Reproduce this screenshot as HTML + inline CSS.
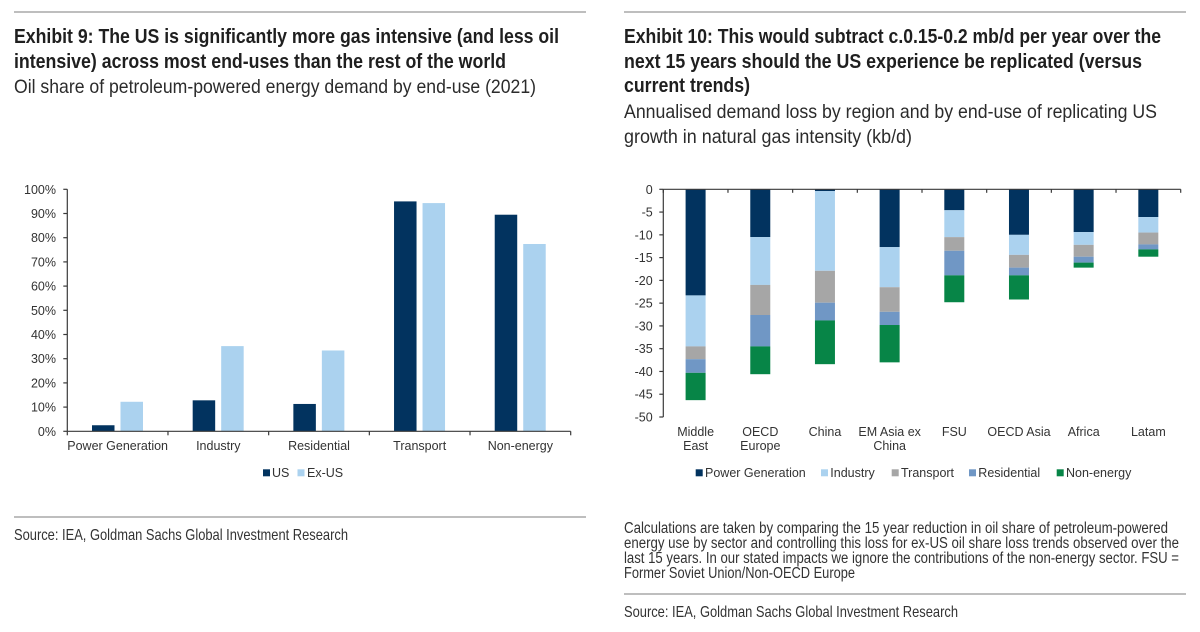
<!DOCTYPE html>
<html lang="en">
<head>
<meta charset="utf-8">
<title>Exhibits 9 and 10</title>
<style>
html,body{margin:0;padding:0;background:#fff;}
body{width:1200px;height:632px;overflow:hidden;}
svg{display:block;font-family:"Liberation Sans",Arial,sans-serif;}
.title{font-size:20px;font-weight:700;fill:#1f1f1f;}
.sub{font-size:19.5px;fill:#2b2b2b;}
.src{font-size:16px;fill:#333;}
.note{font-size:15.5px;fill:#333;}
.tick{font-size:12.5px;fill:#333;}
.rule{stroke:#a9a9a9;stroke-width:1.5;}
.axis{stroke:#3a3a3a;stroke-width:1.2;fill:none;}
</style>
</head>
<body>
<svg id="page" width="1200" height="632" viewBox="0 0 1200 632" xmlns="http://www.w3.org/2000/svg">
  <rect width="1200" height="632" fill="#ffffff"/>

  <line class="rule" x1="14" y1="12" x2="586" y2="12"/>
  <line class="rule" x1="624" y1="12" x2="1186" y2="12"/>

  <text class="title" x="14" y="43" textLength="545" lengthAdjust="spacingAndGlyphs">Exhibit 9: The US is significantly more gas intensive (and less oil</text>
  <text class="title" x="14" y="68" textLength="492" lengthAdjust="spacingAndGlyphs">intensive) across most end-uses than the rest of the world</text>
  <text class="sub" x="14" y="93" textLength="522" lengthAdjust="spacingAndGlyphs">Oil share of petroleum-powered energy demand by end-use (2021)</text>

  <text class="title" x="624" y="43" textLength="537" lengthAdjust="spacingAndGlyphs">Exhibit 10: This would subtract c.0.15-0.2 mb/d per year over the</text>
  <text class="title" x="624" y="68" textLength="518" lengthAdjust="spacingAndGlyphs">next 15 years should the US experience be replicated (versus</text>
  <text class="title" x="624" y="92" textLength="126" lengthAdjust="spacingAndGlyphs">current trends)</text>
  <text class="sub" x="624" y="118" textLength="533" lengthAdjust="spacingAndGlyphs">Annualised demand loss by region and by end-use of replicating US</text>
  <text class="sub" x="624" y="143" textLength="288" lengthAdjust="spacingAndGlyphs">growth in natural gas intensity (kb/d)</text>

  <g id="chart-left"></g>
  <g id="chart-right"></g>

  <line class="rule" x1="14" y1="517" x2="586" y2="517"/>
  <text class="src" x="14" y="540" textLength="334" lengthAdjust="spacingAndGlyphs">Source: IEA, Goldman Sachs Global Investment Research</text>

  <text class="note" x="624" y="533" textLength="544" lengthAdjust="spacingAndGlyphs">Calculations are taken by comparing the 15 year reduction in oil share of petroleum-powered</text>
  <text class="note" x="624" y="548" textLength="555" lengthAdjust="spacingAndGlyphs">energy use by sector and controlling this loss for ex-US oil share loss trends observed over the</text>
  <text class="note" x="624" y="563" textLength="555" lengthAdjust="spacingAndGlyphs">last 15 years. In our stated impacts we ignore the contributions of the non-energy sector. FSU =</text>
  <text class="note" x="624" y="578" textLength="231" lengthAdjust="spacingAndGlyphs">Former Soviet Union/Non-OECD Europe</text>

  <line class="rule" x1="624" y1="594" x2="1186" y2="594"/>
  <text class="src" x="624" y="617" textLength="334" lengthAdjust="spacingAndGlyphs">Source: IEA, Goldman Sachs Global Investment Research</text>
</svg>

<script>
// Exhibit 9 data
const leftCategories = ["Power Generation", "Industry", "Residential", "Transport", "Non-energy"];
const leftUS = [2.5, 12.8, 11.3, 95, 89.5];
const leftExUS = [12.2, 35.2, 33.4, 94.3, 77.4];
const leftTicks = [0, 10, 20, 30, 40, 50, 60, 70, 80, 90, 100];

// Exhibit 10 data
const rightCategories = [["Middle", "East"], ["OECD", "Europe"], ["China"], ["EM Asia ex", "China"], ["FSU"], ["OECD Asia"], ["Africa"], ["Latam"]];
const powerGeneration = [23.3, 10.5, 0.4, 12.7, 4.6, 10, 9.4, 6.1];
const industry = [11.2, 10.5, 17.5, 8.8, 5.9, 4.4, 2.8, 3.4];
const transport = [2.8, 6.6, 7, 5.4, 3, 2.8, 2.6, 2.6];
const residential = [3, 6.9, 3.9, 2.9, 5.4, 1.7, 1.3, 1.1];
const nonEnergy = [6, 6.1, 9.6, 8.2, 5.9, 5.3, 1.1, 1.6];
const rightTicks = [0, -5, -10, -15, -20, -25, -30, -35, -40, -45, -50];

const NS = "http://www.w3.org/2000/svg";
const DARK = "#02335f", LIGHT = "#abd2ef", GREY = "#a6a6a6", MID = "#7097c5", GREEN = "#078547";

function make(parent, tag, attrs, content) {
  const el = document.createElementNS(NS, tag);
  for (const k in attrs) el.setAttribute(k, attrs[k]);
  if (content !== undefined) el.textContent = content;
  parent.appendChild(el);
  return el;
}

// ---- Left chart scales ----
const L = { x0: 67.3, x1: 570.7, yTop: 189.3, yZero: 431.3 };
const leftBand = (L.x1 - L.x0) / leftCategories.length;
const leftY = v => L.yZero - (v / 100) * (L.yZero - L.yTop);
const leftX = i => L.x0 + leftBand * i;

const gL = document.getElementById("chart-left");

leftUS.forEach((v, i) => {
  const r = make(gL, "rect", { x: leftX(i) + 24.7, y: leftY(v), width: 22.5, height: L.yZero - leftY(v), fill: DARK });
  
  
});
leftExUS.forEach((v, i) => {
  const r = make(gL, "rect", { x: leftX(i) + 53.2, y: leftY(v), width: 22.5, height: L.yZero - leftY(v), fill: LIGHT });
  
  
});

const leftYAxis = make(gL, "line", { class: "axis", x1: L.x0, x2: L.x0, y1: L.yTop, y2: L.yZero });


const leftXAxis = make(gL, "line", { class: "axis", x1: L.x0, x2: L.x1, y1: L.yZero, y2: L.yZero });



leftTicks.forEach(t => {
  const m = make(gL, "line", { class: "axis", x1: L.x0 - 4, x2: L.x0, y1: leftY(t), y2: leftY(t) });
  
  
  const s = make(gL, "text", { class: "tick", x: 56, y: leftY(t) + 4.5, "text-anchor": "end" }, t + "%");
  
  
});
leftCategories.forEach((c, i) => {
  const m = make(gL, "line", { class: "axis", x1: leftX(i), x2: leftX(i), y1: L.yZero, y2: L.yZero + 4 });
  
  
  const s = make(gL, "text", { class: "tick", x: leftX(i) + leftBand / 2, y: 450, "text-anchor": "middle" }, c);
  
  
});
const leftEndTick = make(gL, "line", { class: "axis", x1: L.x1, x2: L.x1, y1: L.yZero, y2: L.yZero + 4 });



const usSwatch = make(gL, "rect", { x: 263, y: 469.3, width: 7, height: 7, fill: DARK });


const usLabel = make(gL, "text", { class: "tick", x: 272, y: 477 }, "US");


const exSwatch = make(gL, "rect", { x: 297.5, y: 469.3, width: 7, height: 7, fill: LIGHT });


const exLabel = make(gL, "text", { class: "tick", x: 307, y: 477 }, "Ex-US");



// ---- Right chart scales ----
const R = { x0: 663.3, x1: 1180.7, yTop: 189.3, yBottom: 417 };
const rightBand = (R.x1 - R.x0) / rightCategories.length;
const rightY = v => R.yTop + (-v / 50) * (R.yBottom - R.yTop);
const rightX = i => R.x0 + rightBand * i;

const gR = document.getElementById("chart-right");
const stackSeries = [powerGeneration, industry, transport, residential, nonEnergy];
const stackColours = [DARK, LIGHT, GREY, MID, GREEN];
const stackNames = ["Power Generation", "Industry", "Transport", "Residential", "Non-energy"];
const legendX = [695.7, 821, 891.7, 969, 1056.7];

rightCategories.forEach((c, i) => {
  let sum = 0;
  stackSeries.forEach((series, s) => {
    const top = rightY(-sum);
    sum += series[i];
    const bottom = rightY(-sum);
    const r = make(gR, "rect", { x: rightX(i) + 22.3, y: top, width: 20, height: bottom - top, fill: stackColours[s] });
    
    
  });
});

const rightYAxis = make(gR, "line", { class: "axis", x1: R.x0, x2: R.x0, y1: R.yTop, y2: R.yBottom });


const rightXAxis = make(gR, "line", { class: "axis", x1: R.x0, x2: R.x1, y1: R.yTop, y2: R.yTop });



rightTicks.forEach(t => {
  const m = make(gR, "line", { class: "axis", x1: R.x0 - 4, x2: R.x0, y1: rightY(t), y2: rightY(t) });
  
  
  const s = make(gR, "text", { class: "tick", x: 652.7, y: rightY(t) + 4.5, "text-anchor": "end" }, String(t));
  
  
});
rightCategories.forEach((c, i) => {
  const m = make(gR, "line", { class: "axis", x1: rightX(i), x2: rightX(i), y1: R.yTop, y2: R.yTop + 3.5 });
  
  
  c.forEach((line, n) => {
    const s = make(gR, "text", { class: "tick", x: rightX(i) + rightBand / 2, y: 436 + n * 14, "text-anchor": "middle" }, line);
    
    
  });
});
const rightEndTick = make(gR, "line", { class: "axis", x1: R.x1, x2: R.x1, y1: R.yTop, y2: R.yTop + 3.5 });



stackNames.forEach((name, s) => {
  const sw = make(gR, "rect", { x: legendX[s], y: 469.3, width: 7, height: 7, fill: stackColours[s] });
  
  
  const tx = make(gR, "text", { class: "tick", x: legendX[s] + 9.3, y: 477 }, name);
  
  
});
</script>
</body>
</html>
